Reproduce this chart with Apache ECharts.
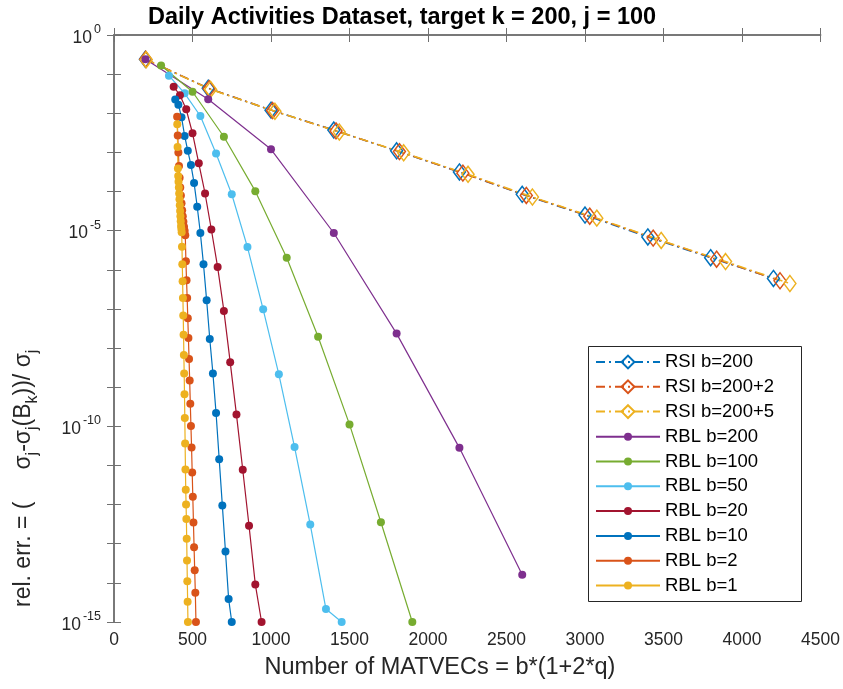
<!DOCTYPE html>
<html>
<head>
<meta charset="utf-8">
<script src="https://cdn.jsdelivr.net/npm/echarts@6/dist/echarts.min.js"></script>
<style>
html,body{margin:0;padding:0;background:#fff;}
#c{width:843px;height:689px;}
</style>
</head>
<body>
<div id="c"></div>
<script>
// ---- data (x = number of MATVECs, y = log10 of relative error) ----
const titleText = 'Daily Activities Dataset, target k = 200, j = 100';
const xTicks = [0, 500, 1000, 1500, 2000, 2500, 3000, 3500, 4000, 4500];
const yLabelExps = [0, -5, -10, -15];

const rsi200_x = [200, 600, 1000, 1400, 1800, 2200, 2600, 3000, 3400, 3800, 4200];
const rsi200_y = [-0.62, -1.36, -1.92, -2.43, -2.96, -3.50, -4.07, -4.60, -5.16, -5.69, -6.22];
const rsi202_x = [202, 606, 1010, 1414, 1818, 2222, 2626, 3030, 3434, 3838, 4242];
const rsi202_y = [-0.62, -1.37, -1.93, -2.45, -2.98, -3.53, -4.10, -4.63, -5.19, -5.73, -6.28];
const rsi205_x = [205, 615, 1025, 1435, 1845, 2255, 2665, 3075, 3485, 3895, 4305];
const rsi205_y = [-0.63, -1.39, -1.95, -2.48, -3.01, -3.56, -4.14, -4.68, -5.25, -5.79, -6.35];

const rbl200_x = [200, 600, 1000, 1400, 1800, 2200, 2600];
const rbl200_y = [-0.62, -1.64, -2.92, -5.06, -7.63, -10.55, -13.79];

const rbl100_x = [300, 500, 700, 900, 1100, 1300, 1500, 1700, 1900];
const rbl100_y = [-0.78, -1.45, -2.60, -3.99, -5.69, -7.71, -9.95, -12.45, -15.0];

const rbl50_x = [350, 450, 550, 650, 750, 850, 950, 1050, 1150, 1250, 1350, 1450];
const rbl50_y = [-1.04, -1.49, -2.07, -3.03, -4.07, -5.42, -7.01, -8.67, -10.53, -12.51, -14.67, -15.0];

const rbl20_x = [380, 420, 460, 500, 540, 580, 620, 660, 700, 740, 780, 820, 860, 900, 940];
const rbl20_y = [-1.32, -1.54, -1.90, -2.51, -3.28, -4.05, -4.97, -5.93, -7.05, -8.36, -9.70, -11.11, -12.54, -14.04, -15.0];

const rbl10_x = [390, 410, 430, 450, 470, 490, 510, 530, 550, 570, 590, 610, 630, 650, 670, 690, 710, 730, 750];
const rbl10_y = [-1.65, -1.78, -2.10, -2.58, -2.96, -3.32, -3.78, -4.39, -5.06, -5.86, -6.78, -7.77, -8.65, -9.66, -10.84, -12.02, -13.20, -14.41, -15.0];

const rbl2_x = [402, 406, 410, 414, 418, 422, 426, 430, 434, 438, 442, 446, 450, 454, 458, 462, 466, 470, 474, 478, 482, 486, 490, 494, 498, 502, 506, 510, 514, 518, 522];
const rbl2_y = [-2.09, -2.57, -3.0, -3.35, -3.65, -3.9, -4.1, -4.3, -4.48, -4.63, -4.77, -4.9, -5.0, -5.12, -5.78, -6.27, -6.72, -7.24, -7.74, -8.28, -8.83, -9.42, -9.99, -10.54, -11.18, -11.80, -12.46, -13.09, -13.68, -14.25, -15.0];

const rbl1_x = [403, 405, 407, 409, 411, 413, 415, 417, 419, 421, 423, 425, 427, 429, 431, 433, 435, 437, 439, 441, 443, 445, 447, 449, 451, 453, 455, 457, 459, 461, 463, 465, 467, 469, 471];
const rbl1_y = [-2.28, -2.86, -3.41, -3.6, -3.75, -3.9, -4.05, -4.2, -4.35, -4.5, -4.63, -4.76, -4.88, -4.96, -5.04, -5.41, -5.86, -6.29, -6.72, -7.17, -7.66, -8.18, -8.65, -9.18, -9.79, -10.44, -11.10, -11.62, -12.0, -12.37, -12.87, -13.43, -13.96, -14.48, -15.0];

const rsiNames = ['RSI b=200', 'RSI b=200+2', 'RSI b=200+5'];
const rblNames = ['RBL b=200', 'RBL b=100', 'RBL b=50', 'RBL b=20', 'RBL b=10', 'RBL b=2', 'RBL b=1'];

// ---- chart ----
const FONT = '"Liberation Sans", Arial, Helvetica, sans-serif';
const C = {blue:'#0072BD', orange:'#D95319', yellow:'#EDB120', purple:'#7E2F8E', green:'#77AC30', cyan:'#4DBEEE', dred:'#A2142F'};
const pairs = (xs, ys) => xs.map((x, i) => [x, ys[i]]);

function rsiSeries(name, xs, ys, col) {
  return {
    name, type: 'line', data: pairs(xs, ys), clip: false,
    symbol: 'diamond', symbolSize: [12, 16],
    itemStyle: {color: 'rgba(255,255,255,0)', borderColor: col, borderWidth: 1.5},
    lineStyle: {color: col, width: 1.5, type: [9, 4, 2, 4]},
    emphasis: {disabled: true}
  };
}
function rblSeries(name, xs, ys, col) {
  return {
    name, type: 'line', data: pairs(xs, ys), clip: false,
    symbol: 'circle', symbolSize: 8,
    itemStyle: {color: col, borderWidth: 0},
    lineStyle: {color: col, width: 1.2},
    emphasis: {disabled: true}
  };
}

const axisCol = '#707070';
const txtCol = '#262626';

const option = {
  animation: false,
  backgroundColor: '#fff',
  textStyle: {fontFamily: FONT},
  title: {
    text: titleText, left: 148, top: 6, padding: 0,
    textStyle: {fontSize: 23.5, fontWeight: 'bold', color: '#000', fontFamily: FONT}
  },
  grid: {left: 114, top: 35, right: 21, bottom: 67, containLabel: false},
  xAxis: [{
    type: 'value', min: xTicks[0], max: xTicks[xTicks.length - 1], interval: 500, position: 'bottom',
    axisLine: {show: true, lineStyle: {color: axisCol, width: 1.5}},
    axisTick: {show: true, inside: true, length: 7, lineStyle: {color: axisCol}},
    splitLine: {show: false},
    axisLabel: {fontSize: 17.5, color: txtCol, margin: 9, fontFamily: FONT, showMinLabel: true, showMaxLabel: true,
      formatter: v => String(v)}
  }, {
    type: 'value', min: xTicks[0], max: xTicks[xTicks.length - 1], interval: 500, position: 'top',
    axisLine: {show: true, lineStyle: {color: axisCol, width: 1.5}},
    axisTick: {show: true, inside: true, length: 7, lineStyle: {color: axisCol}},
    splitLine: {show: false}, axisLabel: {show: false}
  }],
  yAxis: [{
    type: 'value', min: -15, max: 0, interval: 1, position: 'left',
    axisLine: {show: true, lineStyle: {color: axisCol, width: 1.5}},
    axisTick: {show: true, inside: true, length: 7, lineStyle: {color: axisCol}},
    splitLine: {show: false},
    axisLabel: {
      interval: 0, margin: 13, showMinLabel: true, showMaxLabel: true,
      formatter: v => (yLabelExps.indexOf(v) >= 0 ? '{b|10}{s|' + (v === 0 ? '0' : String(v)) + '}' : ''),
      rich: {
        b: {fontSize: 17.5, color: txtCol, fontFamily: FONT, lineHeight: 24, verticalAlign: 'bottom'},
        s: {fontSize: 12.5, color: txtCol, fontFamily: FONT, lineHeight: 12, verticalAlign: 'top', padding: [0, 0, 0, 2]}
      }
    }
  }, {
    type: 'value', min: -15, max: 0, interval: 1, position: 'right',
    axisLine: {show: true, lineStyle: {color: axisCol, width: 1.5}},
    axisTick: {show: true, inside: true, length: 7, lineStyle: {color: axisCol}},
    splitLine: {show: false}, axisLabel: {show: false}
  }],
  legend: [{
    data: rsiNames, orient: 'vertical', left: 595, top: 352, padding: 0,
    itemWidth: 64, itemHeight: 16, itemGap: 4.8,
    textStyle: {fontSize: 18.5, color: '#000', fontFamily: FONT, lineHeight: 20},
    selectedMode: false, z: 10
  }, {
    data: rblNames, orient: 'vertical', left: 595, top: 426.7, padding: 0,
    itemWidth: 64, itemHeight: 10, itemGap: 4.8,
    textStyle: {fontSize: 18.5, color: '#000', fontFamily: FONT, lineHeight: 20},
    selectedMode: false, z: 10
  }],
  graphic: [{
    type: 'rect', left: 588, top: 346, z: 5,
    shape: {width: 213, height: 255},
    style: {fill: '#fff', stroke: '#262626', lineWidth: 1}
  }, {
    type: 'text', x: 440, y: 668, z: 5,
    style: {text: 'Number of MATVECs = b*(1+2*q)', fontSize: 23.5, fontFamily: FONT, fill: txtCol, align: 'center', verticalAlign: 'middle'}
  }, {
    type: 'text', x: 24, y: 607, rotation: Math.PI / 2, z: 5,
    style: {
      text: '{n|rel. err. = (     σ}{u|j}{n|-σ}{u|j}{n|(B}{u|k}{n|))/ σ}{u|j}',
      align: 'left', verticalAlign: 'middle',
      rich: {
        n: {fontSize: 23, fontFamily: FONT, fill: txtCol, lineHeight: 34, verticalAlign: 'middle'},
        u: {fontSize: 16, fontFamily: FONT, fill: txtCol, lineHeight: 16, verticalAlign: 'bottom'}
      }
    }
  }],
  series: [
    rsiSeries(rsiNames[0], rsi200_x, rsi200_y, C.blue),
    rsiSeries(rsiNames[1], rsi202_x, rsi202_y, C.orange),
    rsiSeries(rsiNames[2], rsi205_x, rsi205_y, C.yellow),
    rblSeries(rblNames[0], rbl200_x, rbl200_y, C.purple),
    rblSeries(rblNames[1], rbl100_x, rbl100_y, C.green),
    rblSeries(rblNames[2], rbl50_x, rbl50_y, C.cyan),
    rblSeries(rblNames[3], rbl20_x, rbl20_y, C.dred),
    rblSeries(rblNames[4], rbl10_x, rbl10_y, C.blue),
    rblSeries(rblNames[5], rbl2_x, rbl2_y, C.orange),
    rblSeries(rblNames[6], rbl1_x, rbl1_y, C.yellow)
  ]
};

const chart = echarts.init(document.getElementById('c'), null, {renderer: 'canvas'});
chart.setOption(option);
</script>
</body>
</html>
